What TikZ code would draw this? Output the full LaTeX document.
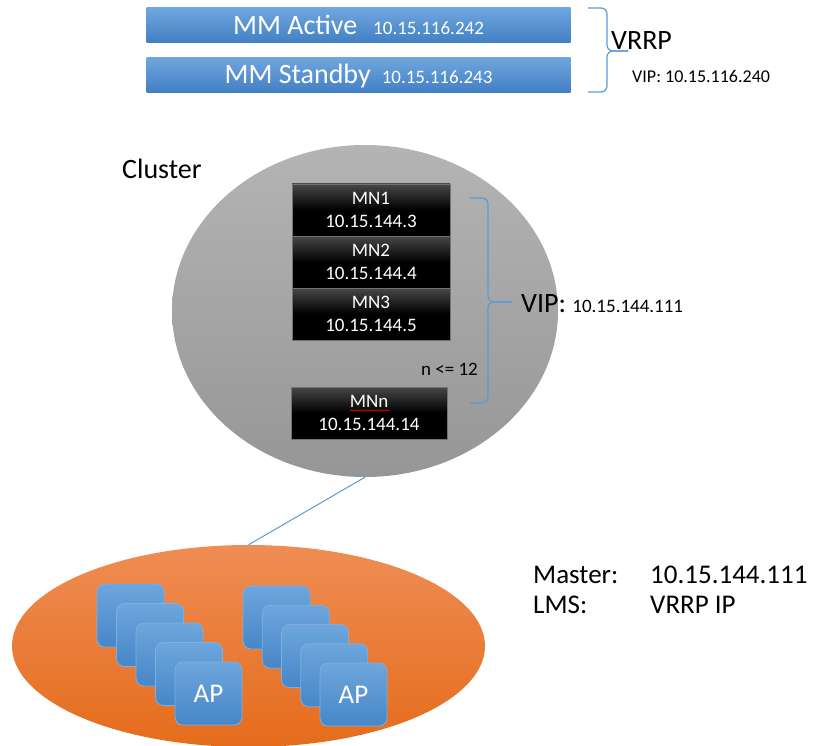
\documentclass[tikz,border=0pt]{standalone}
\usepackage{fontspec}
\setmainfont{Carlito}
\usetikzlibrary{shapes.geometric,decorations.pathmorphing}
\definecolor{bartop}{RGB}{111,166,222}
\definecolor{barbot}{RGB}{66,128,196}
\definecolor{linkblue}{RGB}{91,155,213}
\definecolor{graytop}{RGB}{180,180,180}
\definecolor{graybot}{RGB}{150,150,150}
\definecolor{orangetop}{RGB}{239,141,84}
\definecolor{orangebot}{RGB}{229,108,28}
\definecolor{aptop}{RGB}{110,166,220}
\definecolor{apbot}{RGB}{70,134,200}
\definecolor{apedge}{RGB}{125,175,228}
\newcommand\fsz[2]{\fontsize{#1}{#2}\selectfont}
\begin{document}
\begin{tikzpicture}[x=1pt,y=-1pt,
 bar/.style={rectangle, minimum width=424pt, minimum height=35pt, inner sep=0pt,
   top color=bartop, bottom color=barbot, text=white, text height=18pt, text depth=0pt},
 mnbox/.style={rectangle, minimum width=158pt, minimum height=52pt, inner sep=0pt,
   top color=black!72, bottom color=black, middle color=black, draw=black!55, line width=0.8pt,
   text=white, align=center, font=\fsz{19}{22.5}},
 apbox/.style={rectangle, rounded corners=8pt, minimum width=67pt, minimum height=63pt, inner sep=0pt,
   top color=aptop, bottom color=apbot, draw=apedge, line width=0.8pt, text=white, font=\fsz{27}{30}},
 brace/.style={draw=linkblue, line width=1.2pt, rounded corners=6pt},
 lbl/.style={inner sep=0pt, anchor=base west},
 link/.style={draw=linkblue, line width=1pt},
]
\useasboundingbox (0,0) rectangle (819,746);

% top bars
\node[bar] (mmact) at (358.5,25.5) {\fsz{28}{30}MM Active\hspace{16pt}\fsz{19}{20}10.15.116.242};
\node[bar] (mmstb) at (358.5,75) {\fsz{28}{30}MM Standby\hspace{11pt}\fsz{19}{20}10.15.116.243};
\draw[brace] (588,8) -- (607,8) -- (607,51) -- (628,51);
\draw[brace] (588,92) -- (607,92) -- (607,51) -- (628,51);
\node[lbl, font=\fsz{28}{30}] (vrrp) at (611,50) {VRRP};
\node[lbl, font=\fsz{18}{20}] (vip1) at (632,83) {VIP: 10.15.116.240};

% cluster
\node[lbl, font=\fsz{28}{30}] (clusterlbl) at (122,179) {Cluster};
\node[ellipse, minimum width=386pt, minimum height=332pt, inner sep=0pt,
  top color=graytop, bottom color=graybot] (cluster) at (365,311) {};
\node[mnbox] (mn1) at (371,210) {MN1\\10.15.144.3};
\node[mnbox] (mn2) at (371,262) {MN2\\10.15.144.4};
\node[mnbox] (mn3) at (371,314) {MN3\\10.15.144.5};
\node[mnbox, minimum width=156pt] (mnn) at (369,413) {MNn\\10.15.144.14};
\draw[red, line width=0.6pt, decorate, decoration={snake, amplitude=0.7pt, segment length=3pt}] (350,410.5) -- (389,410.5);
\node[lbl, font=\fsz{19}{20}, anchor=base east] (nlim) at (478,375) {n <= 12};
\draw[brace] (470,198) -- (488,198) -- (488,302) -- (512,302);
\draw[brace] (470,403) -- (488,403) -- (488,302) -- (512,302);
\node[lbl] (vip2) at (521,312) {\fsz{28}{30}VIP: \fsz{19}{20}10.15.144.111};

% AP zone
\node[ellipse, minimum width=473pt, minimum height=202pt, inner sep=0pt,
  top color=orangetop, bottom color=orangebot] (apzone) at (248.5,646) {};
\draw[link] (cluster.south) -- (apzone.north);

\foreach \i in {0,...,3} {
  \node[apbox] (ga\i) at ({130.5+19.5*\i},{615.5+19.5*\i}) {};
}
\node[apbox] (ga4) at (208.5,693.5) {AP};
\foreach \i in {0,...,3} {
  \node[apbox] (gb\i) at ({276.5+19.25*\i},{617.5+19.25*\i}) {};
}
\node[apbox] (gb4) at (353.5,694.5) {AP};

% master / lms
\node[lbl, font=\fsz{27}{30}] (master) at (533,583) {Master:};
\node[lbl, font=\fsz{27}{30}] (masterip) at (650,583) {10.15.144.111};
\node[lbl, font=\fsz{27}{30}] (lms) at (533,613) {LMS:};
\node[lbl, font=\fsz{27}{30}] (lmsval) at (650,613) {VRRP IP};
\end{tikzpicture}
\end{document}
